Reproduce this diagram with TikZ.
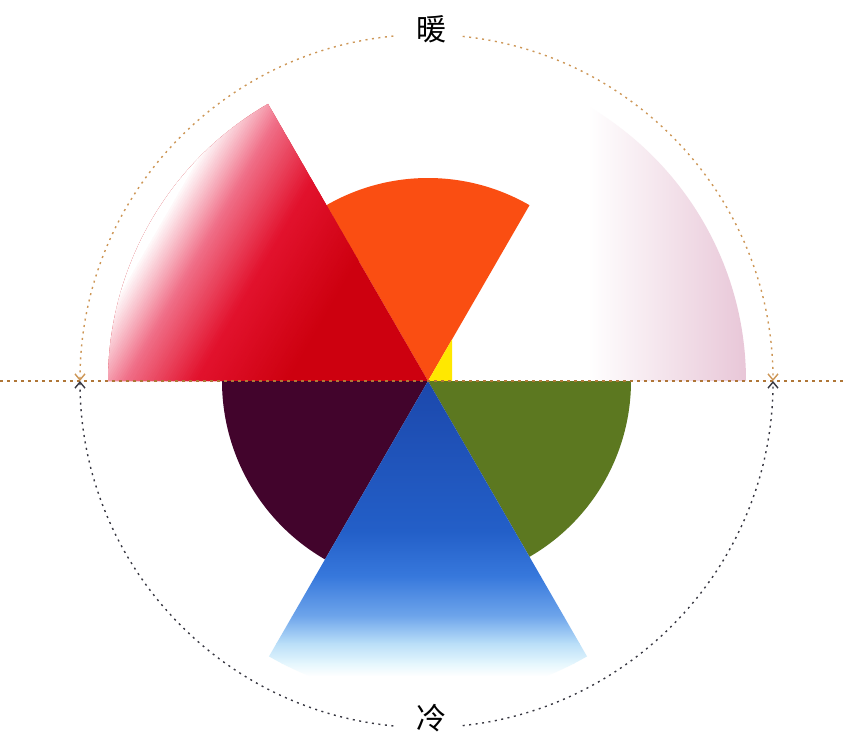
\documentclass[tikz,border=0pt]{standalone}
\usepackage{fontspec}
\newfontfamily\cjk{Noto Sans CJK SC}
\usetikzlibrary{arrows.meta}
\definecolor{cOrange}{RGB}{250,78,18}
\definecolor{cYellow}{RGB}{255,232,0}
\definecolor{cRedDeep}{RGB}{205,0,15}
\definecolor{cRedMid}{RGB}{226,18,45}
\definecolor{cPinkRed}{RGB}{240,110,135}
\definecolor{cPink}{RGB}{232,198,215}
\definecolor{cPurple}{RGB}{66,4,44}
\definecolor{cGreen}{RGB}{92,120,32}
\definecolor{cB0}{RGB}{28,72,172}
\definecolor{cB1}{RGB}{35,95,200}
\definecolor{cB2}{RGB}{55,120,220}
\definecolor{cB3}{RGB}{110,165,235}
\definecolor{cB4}{RGB}{185,222,248}
\definecolor{cB5}{RGB}{228,246,253}
\definecolor{cB6}{RGB}{255,255,255}
\definecolor{cLine}{RGB}{175,118,55}
\definecolor{cWarm}{RGB}{205,150,85}
\definecolor{cCold}{RGB}{55,55,65}
\tikzset{
  hline/.style={cLine, line width=2.8pt, dash pattern=on 3pt off 4pt},
  warmarc/.style={cWarm, line width=1.4pt, dash pattern=on 2pt off 4.5pt, -{Straight Barb[length=6pt,width=10pt,line width=1.4pt]}},
  coldarc/.style={cCold, line width=1.4pt, dash pattern=on 2pt off 4.5pt, -{Straight Barb[length=6pt,width=10pt,line width=1.4pt]}},
  lbl/.style={font=\cjk\fontsize{30}{30}\selectfont, text=black, inner sep=0pt}
}
\begin{document}
\begin{tikzpicture}[x=1pt,y=1pt]
\useasboundingbox[fill=white] (-428,-361) rectangle (417,381);
\coordinate (C) at (0,0);
\coordinate (L) at (-428,0);
\coordinate (R) at (417,0);

% orange wedge
\fill[cOrange] (C) -- (60:203) arc[start angle=60,end angle=120,radius=203] -- cycle;
% yellow sliver
\fill[cYellow] (C) -- (24,0) -- (24,41.6) -- cycle;
% pink wedge
\begin{scope}
  \clip (24,0) -- (318,0) arc[start angle=0,end angle=85.67,radius=318] -- cycle;
  \shade[left color=white, right color=cPink] (160,0) rectangle (320,320);
\end{scope}
% red wedge
\fill[cRedDeep] (C) -- (120:320) arc[start angle=120,end angle=180,radius=320] -- cycle;
\begin{scope}
  \clip (C) -- (120:320) arc[start angle=120,end angle=180,radius=320] -- cycle;
  \begin{scope}[rotate=150]
    \foreach \d in {120,122,...,198}{
      \pgfmathtruncatemacro\p{(\d-120)/80*100}
      \fill[cRedMid!\p!cRedDeep] (\d,-200) rectangle ++(2.6,400);
    }
    \foreach \d in {200,202,...,258}{
      \pgfmathtruncatemacro\p{(\d-200)/60*100}
      \fill[cPinkRed!\p!cRedMid] (\d,-200) rectangle ++(2.6,400);
    }
    \foreach \d in {260,262,...,308}{
      \pgfmathtruncatemacro\p{(\d-260)/50*100}
      \fill[white!\p!cPinkRed] (\d,-200) rectangle ++(2.6,400);
    }
    \fill[white] (310,-200) rectangle (340,200);
  \end{scope}
\end{scope}
% purple wedge
\fill[cPurple] (C) -- (180:206) arc[start angle=180,end angle=240,radius=206] -- cycle;
% green wedge
\fill[cGreen] (C) -- (300:203) arc[start angle=300,end angle=360,radius=203] -- cycle;
% blue wedge
\begin{scope}
  \clip (C) -- (240:318) arc[start angle=240,end angle=300,radius=318] -- cycle;
  \shade[top color=cB0, bottom color=cB1] (-200,0) rectangle (200,-150.5);
  \shade[top color=cB1, bottom color=cB2] (-200,-150) rectangle (200,-195.5);
  \shade[top color=cB2, bottom color=cB3] (-200,-195) rectangle (200,-235.5);
  \shade[top color=cB3, bottom color=cB4] (-200,-235) rectangle (200,-262.5);
  \shade[top color=cB4, bottom color=cB5] (-200,-262) rectangle (200,-282.5);
  \shade[top color=cB5, bottom color=cB6] (-200,-282) rectangle (200,-295.5);
  \fill[white] (-200,-295) rectangle (200,-325);
\end{scope}

% horizontal dotted axis
\draw[hline] (L) -- (R);

% labels
\node[lbl] (warm) at (3,352) {暖};
\node[lbl] (cold) at (3,-337) {冷};

% dotted circle arcs with arrows
\begin{scope}[shift={(-1.5,0)}]
  \draw[warmarc] (95.5:346.5) arc[start angle=95.5,end angle=180,radius=346.5];
  \draw[warmarc] (84:346.5) arc[start angle=84,end angle=0,radius=346.5];
  \draw[coldarc] (264.5:346.5) arc[start angle=264.5,end angle=180,radius=346.5];
  \draw[coldarc] (276:346.5) arc[start angle=276,end angle=360,radius=346.5];
\end{scope}
\end{tikzpicture}
\end{document}
